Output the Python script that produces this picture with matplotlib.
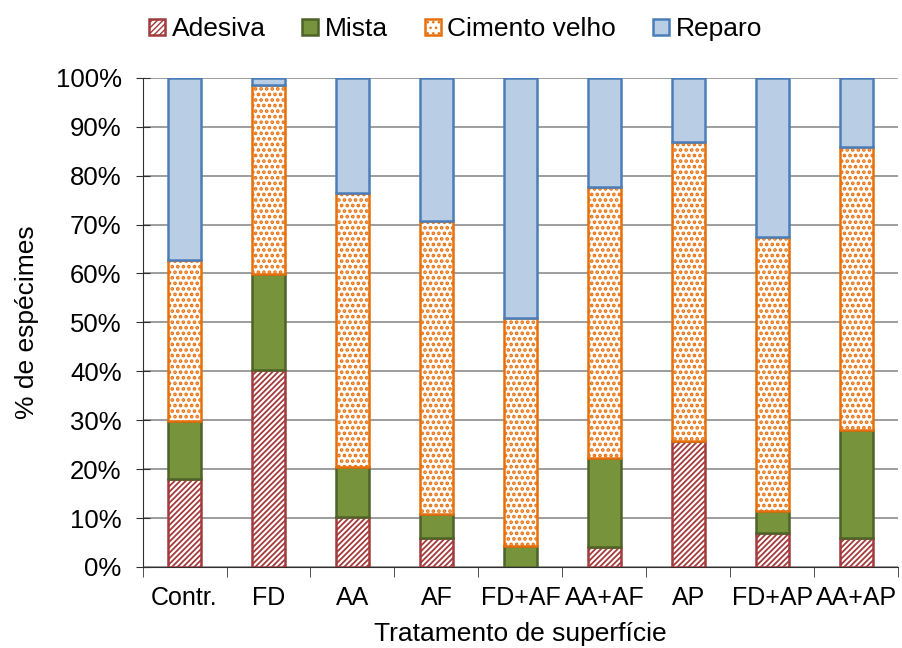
import numpy as np
import matplotlib
matplotlib.use('Agg')
import matplotlib.pyplot as plt
from matplotlib.ticker import FuncFormatter

plt.rcParams['font.family'] = ['Liberation Sans', 'DejaVu Sans']

categorias = ['Contr.', 'FD', 'AA', 'AF', 'FD+AF', 'AA+AF', 'AP', 'FD+AP', 'AA+AP']
adesiva = [17.9, 40.3, 10.2, 5.9, 0.0, 4.1, 25.8, 7.0, 5.9]
mista = [12.0, 19.6, 10.2, 4.9, 4.3, 18.2, 0.0, 4.5, 22.1]
cimento = [32.9, 38.7, 56.1, 60.0, 46.6, 55.4, 61.1, 56.0, 57.9]
reparo = [100 - a - m - c for a, m, c in zip(adesiva, mista, cimento)]

fig = plt.figure(figsize=(9.02, 6.48), dpi=100)
ax = fig.add_axes([0.158, 0.125, 0.838, 0.755])

x = np.arange(len(categorias))
w = 0.4
base = np.zeros(len(categorias))
series = [
    ('Adesiva', adesiva, 'white', '#A33A3C', '//////', 1.3),
    ('Mista', mista, '#77933C', '#4F6228', None, 1.0),
    ('Cimento velho', cimento, 'white', '#E8700C', '...', 1.8),
    ('Reparo', reparo, '#B9CDE5', '#4A7EBB', None, 1.0),
]
for nome, vals, fc, ec, hatch, hlw in series:
    plt.rcParams['hatch.linewidth'] = hlw
    ax.bar(x, vals, w, bottom=base, color=fc, edgecolor=ec, hatch=hatch,
           linewidth=1.8, label=nome, zorder=3)
    base += np.array(vals)

ax.set_xlim(-0.5, len(categorias) - 0.5)
ax.set_ylim(0, 100)
ax.set_yticks(np.arange(0, 101, 10))
ax.yaxis.set_major_formatter(FuncFormatter(lambda v, p: '%d%%' % v))
ax.yaxis.grid(True, color='#959595', linewidth=1.3, zorder=0)
ax.set_xticks(x)
ax.set_xticklabels(categorias)
ax.set_xticks(np.arange(-0.5, len(categorias), 1), minor=True)
ax.tick_params(axis='x', which='major', length=0, labelsize=18, pad=14)
ax.tick_params(axis='x', which='minor', length=7, direction='out', color='#303030')
ax.tick_params(axis='y', labelsize=18.5, length=10, direction='inout', pad=10, color='#303030')
for s in ['top', 'right']:
    ax.spines[s].set_visible(False)
ax.spines['left'].set_color('#303030')
ax.spines['bottom'].set_color('#303030')

ax.set_xlabel('Tratamento de superfície', fontsize=19, labelpad=8)
ax.set_ylabel('% de espécimes', fontsize=19, labelpad=12)

fig.legend(loc='upper center', bbox_to_anchor=(0.505, 1.01), ncol=4, frameon=False,
           fontsize=19, handlelength=0.6, handleheight=0.6, handletextpad=0.25,
           columnspacing=1.4)

fig.savefig('out.png', dpi=100)
